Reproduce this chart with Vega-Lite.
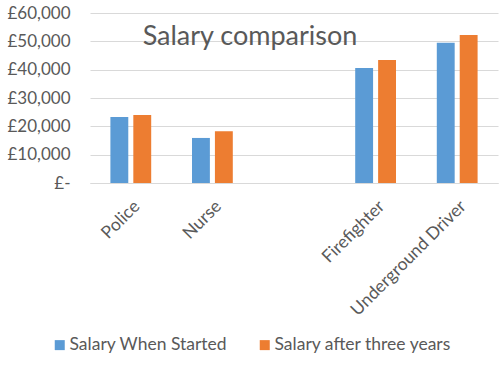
{
  "$schema": "https://vega.github.io/schema/vega-lite/v6.json",
  "width": 408,
  "height": 170,
  "autosize": {"type": "none"},
  "padding": {"left": 90, "top": 13, "right": 2, "bottom": 193},
  "background": "white",
  "title": {"text": "Salary comparison", "fontSize": 27, "font": "Lato", "fontWeight": "normal", "color": "#595959", "anchor": "middle", "frame": "group", "dx": -44, "offset": 0, "dy": 47},
  "data": {"values": [
    {"job": "Police", "series": "Salary When Started", "salary": 23300},
    {"job": "Police", "series": "Salary after three years", "salary": 24000},
    {"job": "Nurse", "series": "Salary When Started", "salary": 15900},
    {"job": "Nurse", "series": "Salary after three years", "salary": 18300},
    {"job": "Firefighter", "series": "Salary When Started", "salary": 40600},
    {"job": "Firefighter", "series": "Salary after three years", "salary": 43400},
    {"job": "Underground Driver", "series": "Salary When Started", "salary": 49500},
    {"job": "Underground Driver", "series": "Salary after three years", "salary": 52200}
  ]},
  "mark": {"type": "bar"},
  "encoding": {
    "x": {"field": "job", "type": "nominal", "sort": null,
      "scale": {"domain": ["Police", "Nurse", " ", "Firefighter", "Underground Driver"], "paddingInner": 0.5, "paddingOuter": 0.25},
      "axis": {"title": null, "labelAngle": -45, "labelFont": "Lato", "labelFontSize": 17.5, "labelColor": "#595959", "ticks": false, "domainColor": "#d9d9d9", "labelPadding": 14}},
    "xOffset": {"field": "series", "type": "nominal",
      "scale": {"domain": ["Salary When Started", "Salary after three years"], "paddingInner": 0.22}},
    "y": {"field": "salary", "type": "quantitative",
      "scale": {"domain": [0, 60000]},
      "axis": {"title": null, "values": [0, 10000, 20000, 30000, 40000, 50000, 60000],
        "labelExpr": "datum.value == 0 ? '£-' : '£' + format(datum.value, ',')",
        "domain": false, "ticks": false, "gridColor": "#d9d9d9", "labelFont": "Lato", "labelFontSize": 17, "labelColor": "#595959", "labelPadding": 20}},
    "color": {"field": "series", "type": "nominal",
      "scale": {"domain": ["Salary When Started", "Salary after three years"], "range": ["#5B9BD5", "#ED7D31"]},
      "legend": {"title": null, "orient": "none", "direction": "horizontal", "legendX": -39, "legendY": 323, "symbolType": "square", "symbolSize": 100, "symbolStrokeWidth": 0, "labelFont": "Lato", "labelFontSize": 17.5, "labelColor": "#595959", "labelLimit": 300, "columnPadding": 28, "labelOffset": 1}}
  },
  "config": {"view": {"stroke": null}}
}
